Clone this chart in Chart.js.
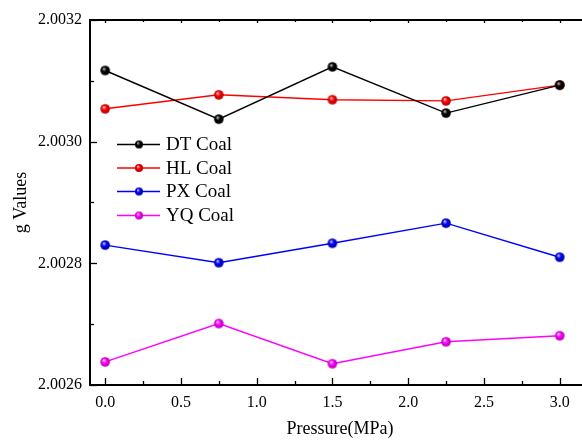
<!DOCTYPE html>
<html>
<head>
<meta charset="utf-8">
<script src="https://cdn.jsdelivr.net/npm/chart.js@4/dist/chart.umd.min.js"></script>
<style>
html,body{margin:0;padding:0;background:#fff;overflow:hidden;}
canvas{display:block;}
</style>
</head>
<body>
<canvas id="c" width="600" height="440"></canvas>
<script>
const pressure = [0, 0.75, 1.5, 2.25, 3.0];
const dtCoal = [2.003117, 2.003037, 2.003123, 2.003047, 2.003093];
const hlCoal = [2.003054, 2.003077, 2.003069, 2.003067, 2.003093];
const pxCoal = [2.002830, 2.002801, 2.002833, 2.002866, 2.002810];
const yqCoal = [2.002638, 2.002701, 2.002635, 2.002671, 2.002681];
const seriesNames = ['DT Coal', 'HL Coal', 'PX Coal', 'YQ Coal'];
const xTicks = [0, 0.5, 1.0, 1.5, 2.0, 2.5, 3.0];
const yTicks = [2.0026, 2.0028, 2.0030, 2.0032];

const FONT = '"Liberation Serif", "Times New Roman", serif';

function sphere(color, dark, hi, r) {
  const s = Math.ceil(2 * r + 2);
  const c = document.createElement('canvas');
  c.width = s; c.height = s;
  const x = c.getContext('2d');
  const cx = s / 2, cy = s / 2;
  const g = x.createRadialGradient(cx - r * 0.3, cy - r * 0.4, r * 0.05, cx, cy, r);
  g.addColorStop(0, hi);
  g.addColorStop(0.45, color);
  g.addColorStop(1, dark);
  x.fillStyle = g;
  x.beginPath(); x.arc(cx, cy, r, 0, Math.PI * 2); x.fill();
  return c;
}
const colors = ['#000000', '#ff0000', '#0000ff', '#ff00ff'];
const darks = ['#000000', '#b00000', '#0000a0', '#b000b0'];
const his = ['#bbbbbb', '#ffd0d0', '#d0d0ff', '#ffd8ff'];
const balls = colors.map((c, i) => sphere(c, darks[i], his[i], 4.8));
const smallBalls = colors.map((c, i) => sphere(c, darks[i], his[i], 4.0));

const values = [dtCoal, hlCoal, pxCoal, yqCoal];
const datasets = values.map((vals, i) => ({
  label: seriesNames[i],
  data: pressure.map((p, j) => ({x: p, y: vals[j]})),
  borderColor: colors[i],
  backgroundColor: colors[i],
  borderWidth: 1.4,
  pointStyle: balls[i],
  pointRadius: 4.8,
  tension: 0
}));

const decor = {
  id: 'decor',
  afterDraw(chart) {
    const ctx = chart.ctx;
    const xs = chart.scales.x, ys = chart.scales.y;
    const a = chart.chartArea;
    ctx.save();
    ctx.strokeStyle = '#000';
    // top axis line
    ctx.lineWidth = 2;
    ctx.beginPath(); ctx.moveTo(a.left - 1, a.top); ctx.lineTo(a.right + 5, a.top); ctx.stroke();
    ctx.lineWidth = 1.3;
    // x ticks (major + minor)
    for (let v = 0; v <= 3.0001; v += 0.25) {
      const px = Math.round(xs.getPixelForValue(v)) + 0.5;
      const major = Math.abs(v / 0.5 - Math.round(v / 0.5)) < 1e-6;
      const len = major ? 7 : 4;
      ctx.beginPath(); ctx.moveTo(px, a.bottom); ctx.lineTo(px, a.bottom - len); ctx.stroke();
      ctx.beginPath(); ctx.moveTo(px, a.top); ctx.lineTo(px, a.top + (major ? 3 : 2)); ctx.stroke();
    }
    // y ticks
    for (let k = 0; k <= 6; k++) {
      const v = 2.0026 + k * 0.0001;
      const py = Math.round(ys.getPixelForValue(v)) + 0.5;
      const len = (k % 2 === 0) ? 7 : 4;
      ctx.beginPath(); ctx.moveTo(a.left, py); ctx.lineTo(a.left + len, py); ctx.stroke();
    }
    // legend
    const rows = [144.5, 168, 191.5, 215.5];
    ctx.font = '19px ' + FONT;
    ctx.textBaseline = 'middle';
    ctx.textAlign = 'left';
    chart.data.datasets.forEach((d, i) => {
      const y = rows[i];
      ctx.strokeStyle = colors[i];
      ctx.lineWidth = 1.4;
      ctx.beginPath(); ctx.moveTo(117, y); ctx.lineTo(160, y); ctx.stroke();
      const b = smallBalls[i];
      ctx.drawImage(b, 139 - b.width / 2, y - b.height / 2);
      ctx.fillStyle = '#000';
      ctx.fillText(d.label, 166, y + 1);
    });
    ctx.restore();
  }
};

new Chart(document.getElementById('c'), {
  type: 'line',
  data: {datasets},
  options: {
    responsive: false,
    animation: false,
    devicePixelRatio: 1,
    layout: {padding: {top: 20, left: 0, right: 10, bottom: 0}},
    plugins: {legend: {display: false}, tooltip: {enabled: false}},
    scales: {
      x: {
        type: 'linear',
        min: -0.1,
        max: 3.2,
        afterFit(s) { s.height = 55; },
        afterBuildTicks(s) { s.ticks = xTicks.map(v => ({value: v})); },
        grid: {display: false, drawTicks: false},
        border: {display: true, color: '#000', width: 2},
        ticks: {
          color: '#000', padding: 8,
          font: {family: FONT, size: 16},
          callback: v => Number(v).toFixed(1)
        },
        title: {display: true, text: 'Pressure(MPa)', color: '#000',
          font: {family: FONT, size: 18}, padding: {top: 0, bottom: 0}}
      },
      y: {
        type: 'linear',
        min: 2.0026,
        max: 2.0032,
        afterFit(s) { s.width = 90; },
        afterBuildTicks(s) { s.ticks = yTicks.map(v => ({value: v})); },
        grid: {display: false, drawTicks: false},
        border: {display: true, color: '#000', width: 2},
        ticks: {
          color: '#000', padding: 8,
          font: {family: FONT, size: 16},
          callback: v => Number(v).toFixed(4)
        },
        title: {display: true, text: 'g Values', color: '#000',
          font: {family: FONT, size: 18}, padding: {top: 10, bottom: 0}}
      }
    }
  },
  plugins: [decor]
});
</script>
</body>
</html>
